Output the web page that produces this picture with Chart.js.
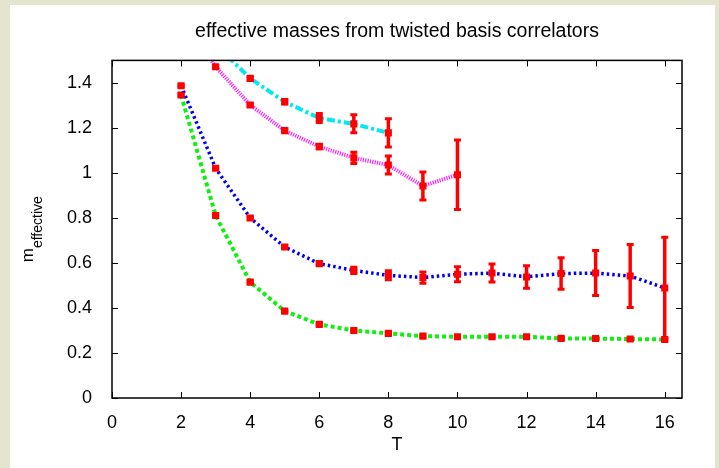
<!DOCTYPE html>
<html>
<head>
<meta charset="utf-8">
<script src="https://cdn.jsdelivr.net/npm/chart.js@4.4.1/dist/chart.umd.min.js"></script>
<style>
  html, body { margin: 0; padding: 0; background: #e5e5cf; }
  canvas { display: block; }
</style>
</head>
<body>
<canvas id="massChart" width="719" height="468"></canvas>
<script>
// effective mass data
const tGreen = [2, 3, 4, 5, 6, 7, 8, 9, 10, 11, 12, 13, 14, 15, 16];
const mGreen = [1.346, 0.811, 0.515, 0.386, 0.327, 0.300, 0.287, 0.275, 0.272, 0.272, 0.272, 0.265, 0.264, 0.262, 0.260];
const eGreen = [0.006, 0.005, 0.004, 0.004, 0.004, 0.004, 0.005, 0.005, 0.005, 0.005, 0.005, 0.005, 0.005, 0.005, 0.006];

const tBlue = [2, 3, 4, 5, 6, 7, 8, 9, 10, 11, 12, 13, 14, 15, 16];
const mBlue = [1.387, 1.021, 0.800, 0.671, 0.597, 0.567, 0.545, 0.535, 0.550, 0.555, 0.538, 0.553, 0.555, 0.542, 0.489];
const eBlue = [0.004, 0.005, 0.005, 0.006, 0.008, 0.014, 0.020, 0.025, 0.033, 0.040, 0.050, 0.070, 0.100, 0.140, 0.225];

const tMagenta = [2, 3, 4, 5, 6, 7, 8, 9, 10];
const mMagenta = [1.700, 1.472, 1.302, 1.188, 1.117, 1.067, 1.035, 0.942, 0.992];
const eMagenta = [0.010, 0.005, 0.006, 0.007, 0.010, 0.025, 0.040, 0.062, 0.154];

const tCyan = [3, 4, 5, 6, 7, 8];
const mCyan = [1.570, 1.420, 1.316, 1.244, 1.218, 1.178];
const eCyan = [0.010, 0.008, 0.010, 0.020, 0.040, 0.063];

const xTickValues = [0, 2, 4, 6, 8, 10, 12, 14, 16];
const yTickValues = [0, 0.2, 0.4, 0.6, 0.8, 1, 1.2, 1.4];

function pts(t, m) {
    return t.map((x, i) => ({ x: x, y: m[i] }));
}

function series(label, t, m, err, color, dash, width) {
    return {
        label: label,
        data: pts(t, m),
        errors: err,
        borderColor: color,
        borderDash: dash,
        borderWidth: width,
        borderCapStyle: 'butt',
        tension: 0,
        pointStyle: 'rect',
        pointRadius: 5,
        pointBackgroundColor: '#ff0000',
        pointBorderWidth: 0,
        fill: false
    };
}

const panelBg = {
    id: 'panelBg',
    beforeDraw(chart) {
        const c = chart.ctx;
        c.save();
        c.fillStyle = '#e5e5cf';
        c.fillRect(0, 0, chart.width, chart.height);
        c.fillStyle = '#ffffff';
        c.fillRect(10, 5, 705, 463);
        c.restore();
    }
};

// red error bars, drawn through the scales
const errorBars = {
    id: 'errorBars',
    afterDatasetsDraw(chart) {
        const c = chart.ctx;
        const xs = chart.scales.x, ys = chart.scales.y;
        const a = chart.chartArea;
        c.save();
        c.beginPath();
        c.rect(a.left, a.top, a.right - a.left, a.bottom - a.top);
        c.clip();
        c.strokeStyle = '#ff0000';
        chart.data.datasets.forEach(ds => {
            ds.data.forEach((p, i) => {
                const e = ds.errors[i];
                const px = xs.getPixelForValue(p.x);
                const top = ys.getPixelForValue(p.y + e);
                const bot = ys.getPixelForValue(p.y - e);
                c.lineWidth = 3.5;
                c.beginPath();
                c.moveTo(px, top);
                c.lineTo(px, bot);
                c.stroke();
                c.lineWidth = 3;
                c.beginPath();
                c.moveTo(px - 3.5, top);
                c.lineTo(px + 3.5, top);
                c.moveTo(px - 3.5, bot);
                c.lineTo(px + 3.5, bot);
                c.stroke();
            });
        });
        c.restore();
    }
};

// frame, inward ticks and the subscripted y title
const frame = {
    id: 'frame',
    afterDraw(chart) {
        const c = chart.ctx;
        const a = chart.chartArea;
        const xs = chart.scales.x, ys = chart.scales.y;
        const len = 6;
        c.save();
        c.strokeStyle = '#000000';
        c.lineWidth = 1;
        c.beginPath();
        xs.ticks.forEach(t => {
            const px = Math.round(xs.getPixelForValue(t.value)) + 0.5;
            c.moveTo(px, a.bottom);
            c.lineTo(px, a.bottom - len);
            c.moveTo(px, a.top);
            c.lineTo(px, a.top + len);
        });
        ys.ticks.forEach(t => {
            const py = Math.round(ys.getPixelForValue(t.value)) + 0.5;
            c.moveTo(a.left, py);
            c.lineTo(a.left + len, py);
            c.moveTo(a.right, py);
            c.lineTo(a.right - len, py);
        });
        c.stroke();
        c.lineWidth = 1.5;
        c.strokeRect(a.left, a.top, a.right - a.left, a.bottom - a.top);

        // m_effective
        c.translate(33, (a.top + a.bottom) / 2);
        c.rotate(-Math.PI / 2);
        c.fillStyle = '#000000';
        c.font = '17px "Liberation Sans", Arial, sans-serif';
        const w1 = c.measureText('m').width;
        c.font = '14px "Liberation Sans", Arial, sans-serif';
        const w2 = c.measureText('effective').width;
        const x0 = -(w1 + w2) / 2;
        c.textBaseline = 'alphabetic';
        c.font = '17px "Liberation Sans", Arial, sans-serif';
        c.fillText('m', x0, 0);
        c.font = '14px "Liberation Sans", Arial, sans-serif';
        c.fillText('effective', x0 + w1, 9);
        c.restore();
    }
};

const font = { family: '"Liberation Sans", Arial, sans-serif', size: 18 };

new Chart(document.getElementById('massChart'), {
    type: 'line',
    data: {
        datasets: [
            series('cyan', tCyan, mCyan, eCyan, '#00e8f0', [8, 3, 3, 3], 4),
            series('magenta', tMagenta, mMagenta, eMagenta, '#ff22ff', [1.2, 1.2], 4),
            series('blue', tBlue, mBlue, eBlue, '#0000f0', [2.5, 3], 3.5),
            series('green', tGreen, mGreen, eGreen, '#11ee11', [4, 3], 4)
        ]
    },
    options: {
        responsive: false,
        animation: false,
        layout: { padding: { left: 10, right: 37, top: 0, bottom: 0 } },
        plugins: {
            legend: { display: false },
            tooltip: { enabled: false },
            title: {
                display: true,
                fullSize: false,
                text: 'effective masses from twisted basis correlators',
                color: '#000000',
                font: { family: font.family, size: 19.5, weight: 'normal' },
                padding: { top: 20, bottom: 17 }
            }
        },
        scales: {
            x: {
                type: 'linear',
                min: 0,
                max: 16.5,
                grid: { display: false },
                border: { display: false },
                ticks: { color: '#000000', font: font, padding: 6, maxRotation: 0 },
                afterBuildTicks: s => { s.ticks = xTickValues.map(v => ({ value: v })); },
                afterFit: s => { s.height = 70; },
                title: { display: true, text: 'T', color: '#000000', font: font, padding: { top: 4, bottom: 12 } }
            },
            y: {
                type: 'linear',
                min: 0,
                max: 1.5,
                grid: { display: false },
                border: { display: false },
                ticks: {
                    color: '#000000',
                    font: font,
                    padding: 12,
                    callback: v => String(+v.toFixed(1))
                },
                afterBuildTicks: s => { s.ticks = yTickValues.map(v => ({ value: v })); },
                afterFit: s => { s.width = 102; }
            }
        }
    },
    plugins: [panelBg, errorBars, frame]
});
</script>
</body>
</html>
